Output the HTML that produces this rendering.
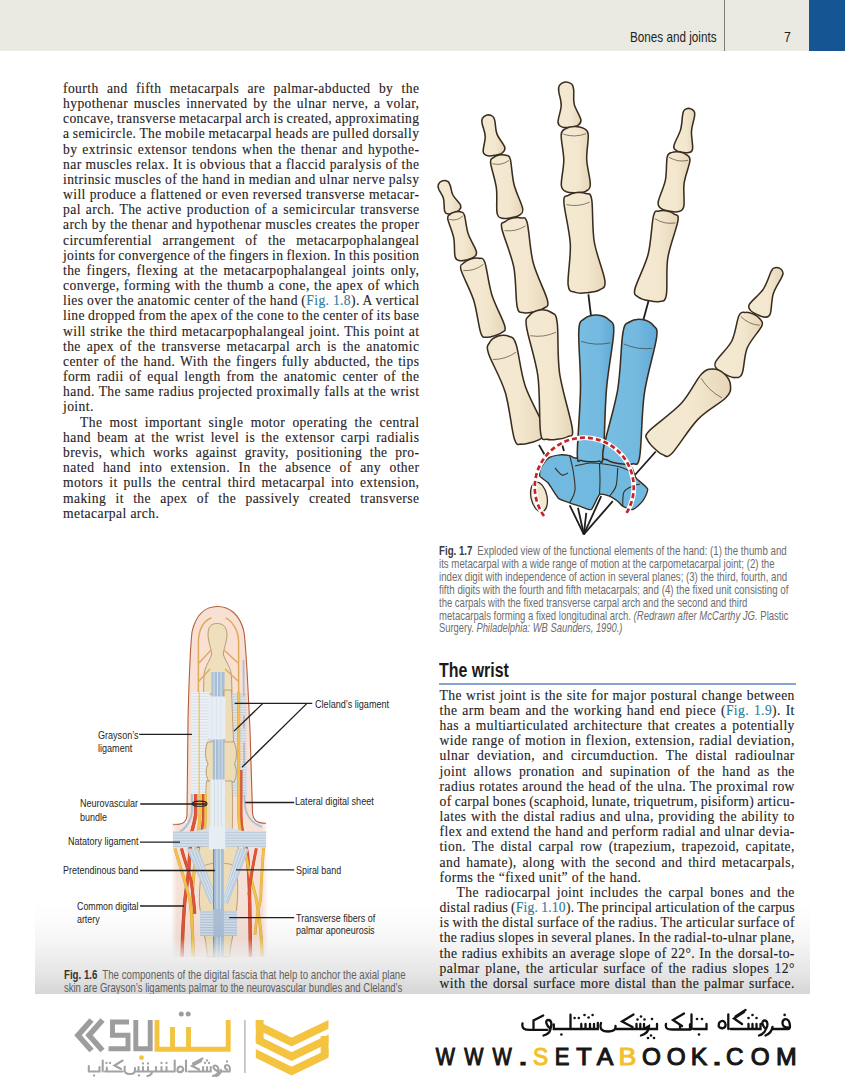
<!DOCTYPE html>
<html><head><meta charset="utf-8">
<style>
*{margin:0;padding:0;box-sizing:border-box}
html,body{width:845px;height:1080px;overflow:hidden;background:#fff}
body{position:relative;font-family:"Liberation Serif",serif;color:#262324}
.ab{position:absolute;white-space:nowrap}
.ln{position:absolute;white-space:nowrap;font-size:13.6px;line-height:20px;height:20px;-webkit-text-stroke:0.12px #262324}
.lnk{color:#2a8bb5}
.cap{position:absolute;white-space:nowrap;font-family:"Liberation Sans",sans-serif;font-size:12.2px;line-height:16px;color:#6d6d6d;transform-origin:0 0}
.cap b{color:#3a3a3a}
.lab{position:absolute;white-space:nowrap;font-family:"Liberation Sans",sans-serif;font-size:11.8px;line-height:14px;color:#262626;transform-origin:0 0;letter-spacing:0px}
</style></head><body>

<div class="ab" style="left:0;top:0;width:845px;height:51.4px;background:#eaeae3"></div>
<div class="ab" style="left:724.1px;top:0;width:1.2px;height:51.4px;background:#807d77"></div>
<div class="ab" style="left:809px;top:0;width:36px;height:50.5px;background:#165593"></div>
<div class="cap" id="h1" style="left:630px;top:29px;font-size:14.6px;color:#231f20;transform:scaleX(0.8015057188359636)">Bones and joints</div>
<div class="cap" id="h2" style="left:784px;top:29.3px;font-size:14.6px;color:#231f20;transform:scaleX(0.85)">7</div>
<div class="ab" id="hd" style="left:439px;top:657.56605px;font-family:'Liberation Sans',sans-serif;font-weight:bold;font-size:20.3px;line-height:24px;color:#1a1a1a;transform-origin:0 0;transform:scaleX(0.7851175851175854)">The wrist</div>
<div class="ab" style="left:438.5px;top:683px;width:357px;height:2px;background:#86a5d2"></div>
<svg width="845" height="1080" style="position:absolute;left:0;top:0"><defs><linearGradient id="bg" x1="0" x2="1" y1="0" y2="0"><stop offset="0" stop-color="#f3e9d1"/><stop offset="0.55" stop-color="#f3e8cf"/><stop offset="1" stop-color="#e6d6b8"/></linearGradient><linearGradient id="blg" x1="0" x2="1" y1="0" y2="0"><stop offset="0" stop-color="#78bde2"/><stop offset="0.6" stop-color="#74bae0"/><stop offset="1" stop-color="#62a9d6"/></linearGradient></defs><line x1="539.0" y1="444.9" x2="544.8" y2="455.0" stroke="#1e1e1e" stroke-width="1.8"/><line x1="562.2" y1="444.9" x2="564.0" y2="451.0" stroke="#1e1e1e" stroke-width="1.8"/><line x1="588.4" y1="294.3" x2="591.0" y2="315.8" stroke="#1e1e1e" stroke-width="1.8"/><line x1="648.9" y1="299.6" x2="642.8" y2="322.0" stroke="#1e1e1e" stroke-width="1.8"/><line x1="655.8" y1="451.5" x2="634.0" y2="476.0" stroke="#1e1e1e" stroke-width="1.8"/><line x1="583.8" y1="534.3" x2="569.7" y2="505.3" stroke="#1e1e1e" stroke-width="1.8"/><line x1="583.8" y1="534.3" x2="578.0" y2="507.8" stroke="#1e1e1e" stroke-width="1.8"/><line x1="583.8" y1="534.3" x2="586.3" y2="512.8" stroke="#1e1e1e" stroke-width="1.8"/><line x1="583.8" y1="534.3" x2="601.2" y2="496.2" stroke="#1e1e1e" stroke-width="1.8"/><line x1="583.8" y1="534.3" x2="612.8" y2="501.2" stroke="#1e1e1e" stroke-width="1.8"/><path d="M540.7 468.0C541.5 466.2 546.3 459.4 548.2 458.1C550.1 456.8 557.6 455.1 559.8 454.8C561.9 454.6 568.2 455.3 569.7 455.6C571.2 455.9 573.0 457.8 575.0 458.0C577.0 458.2 586.8 458.0 589.6 458.0C592.4 458.0 599.8 458.0 602.8 458.0C605.8 458.0 616.5 457.0 619.4 458.0C622.3 459.0 630.3 466.0 632.0 468.0C633.7 470.0 634.4 475.9 636.0 478.0C637.6 480.1 646.9 486.7 647.6 489.0C648.3 491.3 644.1 499.1 642.6 501.2C641.1 503.2 634.7 509.0 632.7 509.5C630.7 510.0 624.2 507.0 622.7 506.2C621.2 505.4 619.0 502.2 617.7 501.2C616.4 500.2 611.3 496.9 609.5 496.2C607.7 495.5 601.3 493.3 599.5 494.6C597.7 495.9 593.2 508.3 591.2 509.5C589.2 510.7 581.8 506.9 579.6 506.2C577.5 505.5 571.9 503.6 569.7 502.8C567.6 502.0 560.2 499.9 558.1 497.9C556.0 495.9 550.0 485.2 548.2 483.0C546.4 480.8 540.6 477.8 539.9 476.3C539.1 474.8 539.9 469.8 540.7 468.0Z" fill="#72b9e0" stroke="#3a2d20" stroke-width="1.35"/><path d="M442.0 180.9C443.6 180.3 446.2 180.5 447.6 181.3C449.0 182.0 449.4 183.1 450.2 185.4C451.1 187.7 451.1 191.7 452.9 195.0C454.6 198.3 459.5 202.7 460.6 205.2C461.6 207.7 460.3 208.7 459.3 209.9C458.2 211.1 456.0 211.8 454.3 212.5C452.5 213.1 450.4 214.1 448.8 214.0C447.2 213.8 445.6 213.9 444.7 211.4C443.8 208.8 444.5 202.2 443.5 198.6C442.6 195.0 439.9 192.0 439.0 189.7C438.2 187.5 437.7 186.4 438.2 184.9C438.7 183.4 440.5 181.5 442.0 180.9Z" fill="url(#bg)" stroke="#3a2d20" stroke-width="1.55"/><path d="M454.7 212.0C456.5 211.6 458.7 211.3 460.3 211.8C461.9 212.3 462.9 211.1 464.3 214.8C465.6 218.5 466.2 228.0 468.3 234.1C470.3 240.2 475.4 247.4 476.3 251.2C477.3 255.1 475.5 255.7 474.0 257.1C472.5 258.5 469.5 259.1 467.2 259.7C464.8 260.3 462.0 261.2 459.9 260.7C457.9 260.3 456.1 260.6 455.1 256.8C454.0 253.0 455.0 244.2 453.7 237.9C452.5 231.6 448.5 223.0 447.8 219.1C447.2 215.2 448.6 215.7 449.8 214.6C450.9 213.4 453.0 212.5 454.7 212.0Z" fill="url(#bg)" stroke="#3a2d20" stroke-width="1.55"/><path d="M463.1 215.8 Q457.2 221.5 449.3 219.4" fill="none" stroke="#3a2d20" stroke-width="0.8" opacity="0.75"/><path d="M470.7 259.0C473.2 258.2 476.5 257.8 478.9 258.3C481.2 258.9 482.7 256.4 484.9 262.5C487.0 268.5 488.5 284.1 491.8 294.7C495.1 305.2 502.9 319.3 504.6 325.5C506.4 331.8 504.0 330.6 502.3 332.3C500.6 334.0 497.3 334.8 494.7 335.7C492.1 336.5 488.9 337.7 486.6 337.2C484.2 336.8 482.9 339.2 480.8 333.0C478.6 326.9 477.0 310.9 473.7 300.3C470.4 289.8 462.7 276.1 461.0 269.9C459.3 263.7 462.0 264.9 463.6 263.1C465.2 261.3 468.2 259.8 470.7 259.0Z" fill="url(#bg)" stroke="#3a2d20" stroke-width="1.55"/><path d="M483.4 264.4 Q474.5 271.3 463.3 270.6" fill="none" stroke="#3a2d20" stroke-width="0.8" opacity="0.75"/><path d="M498.2 336.0C501.5 335.0 506.3 335.0 509.3 336.5C512.3 337.9 513.6 336.6 516.3 344.9C518.9 353.1 520.5 372.0 525.2 386.0C530.0 400.1 542.0 420.4 544.8 429.0C547.6 437.6 544.0 435.5 541.9 437.7C539.8 439.9 535.6 441.1 532.2 442.2C528.9 443.2 524.7 444.7 521.8 444.2C518.8 443.6 517.1 447.4 514.3 438.8C511.6 430.2 509.5 406.6 505.3 392.5C501.0 378.3 491.3 362.0 488.6 353.7C486.0 345.5 487.8 345.8 489.4 342.8C491.0 339.9 494.9 337.1 498.2 336.0Z" fill="url(#bg)" stroke="#3a2d20" stroke-width="1.55"/><path d="M516.1 352.1 Q505.8 359.6 492.9 359.5" fill="none" stroke="#3a2d20" stroke-width="0.8" opacity="0.75"/><path d="M487.0 115.0C488.8 114.7 491.5 115.4 492.9 116.5C494.2 117.5 494.2 118.4 494.9 121.4C495.6 124.3 495.3 129.7 497.0 134.1C498.6 138.4 503.9 144.1 504.8 147.3C505.6 150.4 503.7 151.6 502.1 153.0C500.5 154.3 497.5 154.7 495.1 155.2C492.8 155.7 489.9 156.4 487.9 155.8C485.9 155.3 483.6 154.9 483.2 151.6C482.8 148.4 485.4 141.1 485.2 136.4C485.1 131.8 482.7 126.9 482.2 124.0C481.7 121.0 481.4 120.1 482.2 118.7C483.0 117.2 485.2 115.4 487.0 115.0Z" fill="url(#bg)" stroke="#3a2d20" stroke-width="1.55"/><path d="M499.3 155.0C501.4 154.6 504.0 154.5 505.9 155.2C507.7 155.9 508.9 154.1 510.3 159.1C511.6 164.0 512.0 176.6 514.1 184.8C516.2 193.1 521.7 203.4 522.6 208.4C523.5 213.5 521.3 213.6 519.4 215.1C517.5 216.7 513.9 217.2 511.1 217.7C508.3 218.2 504.9 219.0 502.5 218.3C500.2 217.6 498.1 218.3 497.1 213.2C496.0 208.2 497.5 196.6 496.4 188.2C495.3 179.8 491.1 167.9 490.6 162.8C490.1 157.7 491.8 158.9 493.3 157.6C494.7 156.3 497.2 155.4 499.3 155.0Z" fill="url(#bg)" stroke="#3a2d20" stroke-width="1.55"/><path d="M508.9 160.5 Q501.4 166.0 492.4 163.7" fill="none" stroke="#3a2d20" stroke-width="0.8" opacity="0.75"/><path d="M512.8 218.0C515.5 217.4 518.9 217.2 521.3 217.9C523.7 218.7 525.2 215.3 527.2 222.7C529.2 230.2 529.9 249.9 533.2 262.8C536.6 275.7 545.6 292.5 547.4 300.1C549.2 307.6 546.1 306.3 543.9 308.2C541.6 310.1 537.5 310.9 534.2 311.7C530.8 312.4 526.7 313.5 523.9 312.7C521.1 312.0 518.9 314.5 517.2 307.0C515.5 299.4 516.3 280.3 513.8 267.2C511.2 254.2 503.3 236.1 501.8 228.5C500.4 220.9 503.2 223.4 505.1 221.7C506.9 219.9 510.1 218.6 512.8 218.0Z" fill="url(#bg)" stroke="#3a2d20" stroke-width="1.55"/><path d="M525.7 225.8 Q516.0 232.1 504.5 230.6" fill="none" stroke="#3a2d20" stroke-width="0.8" opacity="0.75"/><path d="M539.9 310.0C543.5 309.5 548.6 310.4 551.5 312.5C554.4 314.6 555.9 312.5 557.2 322.6C558.6 332.8 557.1 355.6 559.6 373.3C562.2 390.9 570.9 417.9 572.3 428.4C573.6 439.0 570.3 434.7 567.9 436.5C565.4 438.3 561.1 438.7 557.6 439.2C554.1 439.7 549.8 440.4 547.0 439.3C544.1 438.3 542.1 443.3 540.6 432.8C539.0 422.3 540.2 393.9 537.9 376.2C535.5 358.6 527.9 337.0 526.5 326.9C525.1 316.7 527.1 318.3 529.4 315.5C531.6 312.7 536.2 310.5 539.9 310.0Z" fill="url(#bg)" stroke="#3a2d20" stroke-width="1.55"/><path d="M556.0 332.2 Q543.7 337.9 530.3 335.7" fill="none" stroke="#3a2d20" stroke-width="0.8" opacity="0.75"/><path d="M565.3 82.0C567.4 81.8 570.5 83.0 571.9 84.3C573.3 85.7 573.3 86.9 573.7 90.2C574.1 93.5 573.0 99.1 574.2 104.1C575.4 109.0 580.3 116.3 580.9 119.9C581.4 123.5 579.3 124.3 577.5 125.6C575.7 126.8 572.6 126.9 570.1 127.2C567.6 127.5 564.4 128.0 562.4 127.1C560.4 126.3 558.2 125.9 558.0 122.3C557.8 118.7 561.1 110.5 561.2 105.4C561.4 100.3 559.1 95.0 558.8 91.7C558.5 88.4 558.3 87.3 559.3 85.7C560.4 84.0 563.2 82.2 565.3 82.0Z" fill="url(#bg)" stroke="#3a2d20" stroke-width="1.55"/><path d="M574.5 126.5C577.4 126.4 580.9 126.9 583.2 128.2C585.4 129.5 587.6 129.1 588.2 134.3C588.8 139.5 586.4 151.1 586.7 159.5C587.1 167.9 590.5 179.2 590.3 184.5C590.1 189.9 587.9 190.0 585.6 191.3C583.2 192.7 579.2 192.6 576.0 192.7C572.8 192.8 568.9 193.0 566.4 191.8C564.0 190.5 561.8 190.5 561.3 185.2C560.9 179.9 563.8 168.4 563.8 160.0C563.7 151.6 560.8 140.1 561.2 134.9C561.5 129.7 563.7 130.0 565.9 128.6C568.1 127.2 571.6 126.6 574.5 126.5Z" fill="url(#bg)" stroke="#3a2d20" stroke-width="1.55"/><path d="M586.0 133.7 Q574.7 137.9 563.3 134.2" fill="none" stroke="#3a2d20" stroke-width="0.8" opacity="0.75"/><path d="M576.9 192.5C579.9 192.2 583.5 192.4 586.0 193.5C588.5 194.6 590.3 191.4 591.7 199.4C593.1 207.4 592.0 227.9 594.2 241.5C596.4 255.0 604.0 272.7 604.9 280.7C605.8 288.8 602.4 287.9 599.6 289.9C596.7 291.9 591.6 292.3 587.6 292.7C583.5 293.1 578.5 293.8 575.3 292.4C572.0 291.1 568.9 292.7 568.1 284.7C567.3 276.6 571.0 257.7 570.3 244.0C569.6 230.3 564.2 210.4 563.9 202.3C563.5 194.2 566.0 197.0 568.2 195.4C570.4 193.8 573.9 192.8 576.9 192.5Z" fill="url(#bg)" stroke="#3a2d20" stroke-width="1.55"/><path d="M589.7 202.1 Q578.5 207.3 566.4 204.6" fill="none" stroke="#3a2d20" stroke-width="0.8" opacity="0.75"/><path d="M597.0 315.0C601.2 315.2 606.6 317.2 609.4 320.2C612.2 323.1 614.2 321.1 613.7 332.6C613.2 344.1 608.2 368.7 606.5 389.1C604.7 409.6 604.6 443.4 603.3 455.4C602.0 467.4 600.8 460.1 598.6 461.1C596.4 462.2 592.8 461.8 590.0 461.7C587.1 461.6 583.6 461.6 581.4 460.3C579.3 459.0 577.5 466.2 577.3 454.1C577.2 442.0 580.3 408.4 580.5 387.9C580.8 367.3 578.1 342.4 578.8 330.9C579.4 319.4 581.2 321.6 584.2 318.9C587.3 316.3 592.9 314.8 597.0 315.0Z" fill="url(#blg)" stroke="#3a2d20" stroke-width="1.55"/><path d="M610.4 342.8 Q595.5 346.1 581.1 341.4" fill="none" stroke="#3a2d20" stroke-width="0.8" opacity="0.75"/><path d="M689.8 108.5C691.4 108.8 693.6 110.4 694.3 111.7C695.1 113.1 695.0 113.3 694.5 116.6C694.0 119.9 691.8 126.0 691.5 131.4C691.2 136.8 693.1 145.3 692.6 148.8C692.1 152.4 690.4 152.0 688.7 152.6C687.0 153.2 684.4 152.5 682.4 152.2C680.3 151.8 677.7 151.6 676.3 150.5C674.9 149.4 673.1 149.1 673.9 145.7C674.6 142.2 679.2 134.8 680.6 129.6C682.1 124.4 682.0 117.9 682.7 114.6C683.3 111.4 683.2 111.1 684.4 110.0C685.6 109.0 688.1 108.2 689.8 108.5Z" fill="url(#bg)" stroke="#3a2d20" stroke-width="1.55"/><path d="M679.7 152.0C682.1 152.4 685.0 153.4 686.7 154.8C688.4 156.2 690.3 155.9 689.9 160.7C689.5 165.4 685.1 175.7 684.1 183.3C683.1 190.9 684.8 201.7 683.8 206.4C682.9 211.1 680.8 210.8 678.5 211.6C676.2 212.4 672.7 211.7 669.9 211.2C667.1 210.7 663.5 210.3 661.6 208.8C659.6 207.3 657.6 207.0 658.2 202.2C658.8 197.4 663.9 187.7 665.4 180.2C666.9 172.7 666.1 161.6 667.2 156.9C668.3 152.3 670.1 153.2 672.1 152.4C674.2 151.6 677.2 151.6 679.7 152.0Z" fill="url(#bg)" stroke="#3a2d20" stroke-width="1.55"/><path d="M688.1 160.3 Q677.9 162.7 669.0 157.2" fill="none" stroke="#3a2d20" stroke-width="0.8" opacity="0.75"/><path d="M667.2 211.0C669.8 211.6 672.9 212.7 674.7 214.3C676.5 216.0 679.1 213.6 677.9 220.9C676.8 228.2 669.7 245.6 667.8 258.0C665.9 270.4 667.7 288.2 666.3 295.4C664.9 302.7 662.4 300.6 659.5 301.5C656.6 302.4 652.3 301.4 648.9 300.7C645.4 300.0 641.1 299.2 638.8 297.3C636.5 295.3 633.3 296.2 634.9 289.0C636.5 281.8 645.1 266.2 648.2 254.0C651.3 241.8 651.6 223.0 653.5 215.9C655.3 208.7 656.7 211.9 659.0 211.1C661.3 210.3 664.6 210.5 667.2 211.0Z" fill="url(#bg)" stroke="#3a2d20" stroke-width="1.55"/><path d="M675.5 222.9 Q664.4 224.7 654.9 218.7" fill="none" stroke="#3a2d20" stroke-width="0.8" opacity="0.75"/><path d="M642.2 319.5C646.2 320.1 651.2 322.6 653.6 325.7C656.0 328.9 658.0 326.9 656.5 338.2C654.9 349.6 647.1 374.1 644.3 393.8C641.5 413.5 641.7 444.9 639.7 456.6C637.7 468.3 635.5 462.8 632.2 464.0C628.9 465.2 623.9 464.3 619.9 463.7C615.9 463.1 610.9 462.4 608.1 460.3C605.3 458.2 601.5 462.7 603.1 450.9C604.7 439.2 614.4 409.3 617.7 389.7C620.9 370.0 620.9 344.3 622.9 333.0C624.8 321.8 626.2 324.3 629.4 322.0C632.6 319.8 638.1 318.9 642.2 319.5Z" fill="url(#blg)" stroke="#3a2d20" stroke-width="1.55"/><path d="M652.2 348.3 Q637.4 350.1 623.9 344.0" fill="none" stroke="#3a2d20" stroke-width="0.8" opacity="0.75"/><path d="M779.4 268.1C780.9 268.8 782.6 270.9 782.9 272.4C783.3 273.9 783.4 273.6 781.7 277.2C780.1 280.8 775.1 287.7 773.2 293.9C771.3 300.0 771.7 310.2 770.2 314.0C768.8 317.9 766.6 317.0 764.4 317.1C762.2 317.2 759.5 315.7 757.2 314.6C754.9 313.5 752.0 312.3 750.7 310.6C749.4 308.8 747.4 307.7 749.5 304.1C751.6 300.6 759.7 294.5 763.3 289.1C766.9 283.8 769.2 275.5 770.9 272.0C772.7 268.5 772.4 268.7 773.8 268.1C775.3 267.4 777.9 267.4 779.4 268.1Z" fill="url(#bg)" stroke="#3a2d20" stroke-width="1.55"/><path d="M753.4 314.1C755.8 315.2 758.6 317.0 760.0 319.0C761.3 321.0 763.8 321.3 761.7 326.1C759.5 330.9 750.5 340.1 747.2 348.0C744.0 355.9 744.2 368.6 742.1 373.6C740.1 378.5 737.6 377.4 734.9 377.6C732.1 377.8 728.6 376.0 725.7 374.6C722.8 373.3 719.1 371.8 717.5 369.6C715.8 367.4 713.4 366.3 715.8 361.5C718.2 356.7 727.9 348.6 731.8 341.0C735.6 333.3 736.7 320.5 738.9 315.7C741.2 310.9 743.0 312.6 745.4 312.4C747.8 312.1 751.0 313.0 753.4 314.1Z" fill="url(#bg)" stroke="#3a2d20" stroke-width="1.55"/><path d="M759.8 325.3 Q748.6 324.5 740.8 316.5" fill="none" stroke="#3a2d20" stroke-width="0.8" opacity="0.75"/><path d="M724.7 374.3C727.7 377.1 730.4 382.0 730.5 385.9C730.7 389.8 731.3 392.2 725.8 397.8C720.4 403.4 706.8 410.2 697.9 419.4C688.9 428.6 677.9 447.3 672.1 453.2C666.3 459.1 666.0 455.6 663.1 454.8C660.2 454.0 657.1 450.9 654.5 448.5C652.0 446.1 648.7 443.2 647.7 440.3C646.8 437.4 643.3 437.3 648.8 431.2C654.4 425.1 672.4 413.1 681.1 403.6C689.9 394.1 695.9 380.2 701.1 374.5C706.4 368.7 708.8 369.1 712.8 369.1C716.7 369.0 721.7 371.5 724.7 374.3Z" fill="url(#bg)" stroke="#3a2d20" stroke-width="1.55"/><path d="M722.0 397.9 Q708.8 391.0 701.2 378.3" fill="none" stroke="#3a2d20" stroke-width="0.8" opacity="0.75"/><path d="M569.7 455.6C570.2 458.0 572.1 464.3 573.0 470.0C573.9 475.7 575.5 484.5 575.0 490.0C574.5 495.5 570.6 500.7 569.7 502.8" fill="none" stroke="#3a2d20" stroke-width="1.1"/><path d="M575.0 466.0C577.5 465.5 585.2 463.3 590.0 463.0C594.8 462.7 599.0 463.3 604.0 464.0C609.0 464.7 615.3 465.7 620.0 467.0C624.7 468.3 630.0 471.2 632.0 472.0" fill="none" stroke="#3a2d20" stroke-width="1.1"/><path d="M599.5 464.0C599.6 466.7 600.0 474.9 600.0 480.0C600.0 485.1 599.6 492.2 599.5 494.6" fill="none" stroke="#3a2d20" stroke-width="1.1"/><path d="M617.7 468.0C617.4 471.0 617.4 481.3 616.0 486.0C614.6 490.7 610.6 494.5 609.5 496.2" fill="none" stroke="#3a2d20" stroke-width="1.1"/><path d="M622.7 506.2C622.9 503.8 622.3 495.4 624.0 492.0C625.7 488.6 630.3 487.3 633.0 486.0C635.7 484.7 638.8 484.3 640.0 484.0" fill="none" stroke="#3a2d20" stroke-width="1.1"/><path d="M555.0 468.0C556.2 469.2 559.8 474.2 562.0 475.0C564.2 475.8 567.0 473.3 568.0 473.0" fill="none" stroke="#3a2d20" stroke-width="1.1"/><ellipse cx="539" cy="497" rx="8" ry="15" transform="rotate(-12 539 497)" fill="#f2e8ce" stroke="#3a2d20" stroke-width="1.3"/><path d="M544 516 A49.5 49.5 0 1 1 626.5 513" fill="none" stroke="#fff" stroke-width="4.8"/><path d="M544 516 A49.5 49.5 0 1 1 626.5 513" fill="none" stroke="#c4242b" stroke-width="2.7" stroke-dasharray="5 3"/></svg>
<svg width="845" height="1080" style="position:absolute;left:0;top:0"><defs>
<linearGradient id="palmH" x1="0" x2="1" y1="0" y2="0">
<stop offset="0" stop-color="#f5e1d8" stop-opacity="0"/><stop offset="0.06" stop-color="#f5e1d8"/><stop offset="0.94" stop-color="#f5e1d8"/><stop offset="1" stop-color="#f5e1d8" stop-opacity="0"/></linearGradient>
<linearGradient id="fadeV" x1="0" x2="0" y1="0" y2="1">
<stop offset="0" stop-color="#fff" stop-opacity="0"/><stop offset="0.6" stop-color="#fff" stop-opacity="0"/><stop offset="1" stop-color="#fff" stop-opacity="0.95"/></linearGradient>
</defs><rect x="171" y="823" width="97" height="134" fill="url(#palmH)"/><path d="M187 824 L188 720 C189 680 190 650 192 632 C196 614 206 606.5 217.5 606.5 C229 606.5 240 614 244 632 C246.5 650 248 690 250 730 L253 824 Z" fill="#f8e0d3"/><path d="M173 824.8 C182 824.8 186.5 823 187 815 L188 720 C189 680 190 650 192 632 C196 614 206 606.5 217.5 606.5 C229 606.5 240 614 244 632 C246.5 650 248 690 250 730 L252.5 812 C253 821 257 823.3 266 823.3" fill="none" stroke="#b35d3f" stroke-width="1.1"/><path d="M198.4 700 L198.4 641 C199 629 204 621 211.4 617.8 M225.6 617.8 C232 621 238 629 238.6 641 L238.6 700" fill="none" stroke="#e0aa5c" stroke-width="1.5"/><path d="M208 635 C208 625 212.5 623.5 217.3 623.5 C222 623.5 227 626 227 635 C226.5 644 223 650 223.5 655 C226 662 231 668 231.5 676 L232 694 L203.5 694 L204 676 C204 668 209 662 211.5 655 C212 650 208.5 644 208 635 Z" fill="#efdfbd" stroke="#a88a5e" stroke-width="0.8"/><path d="M211 650 L199 663 M224 650 L238 663 M210 669 L199 681 M225 669 L238 681" stroke="#e0aa5c" stroke-width="1.4" fill="none"/><rect x="211.5" y="672" width="13" height="26" fill="#a7bed4"/><path d="M214 672V698 M217.5 672V698 M221 672V698" stroke="#e2ebf3" stroke-width="0.8"/><path d="M243.5 660 L244.5 800 C245 815 250 822 262 827" stroke="#a9c0d6" stroke-width="1.8" fill="none"/><path d="M230 692.5 L246 697 L246 716 L230 711.5 Z M231.5 725 L246 729 L246 743 L231.5 739 Z M232 760 L247 765 L247 796 L232 791 Z" fill="#dbe5ee"/><path d="M230.0 694.3H246.5M230.0 696.9H246.5M230.0 699.5H246.5M230.0 702.1H246.5M230.0 704.7H246.5M230.0 707.3H246.5M230.0 709.9H246.5M230.0 712.5H246.5M230.0 715.1H246.5M230.0 717.7H246.5M230.0 720.3H246.5M230.0 722.9H246.5M230.0 725.5H246.5M230.0 728.1H246.5M230.0 730.7H246.5M230.0 733.3H246.5M230.0 735.9H246.5M230.0 738.5H246.5M230.0 741.1H246.5M230.0 743.7H246.5M230.0 746.3H246.5M230.0 748.9H246.5M230.0 751.5H246.5M230.0 754.1H246.5M230.0 756.7H246.5M230.0 759.3H246.5M230.0 761.9H246.5M230.0 764.5H246.5M230.0 767.1H246.5M230.0 769.7H246.5M230.0 772.3H246.5M230.0 774.9H246.5M230.0 777.5H246.5M230.0 780.1H246.5M230.0 782.7H246.5M230.0 785.3H246.5M230.0 787.9H246.5M230.0 790.5H246.5M230.0 793.1H246.5M230.0 795.7H246.5" stroke="#9fb4c7" stroke-width="0.6" opacity="0.75" fill="none"/><path d="M240.7 770 L240.7 815 C241 835 246 845 247.4 854.4 C249 875 249.6 890 249.6 898.9 C250 920 250.4 940 250.4 957" stroke="#b8452e" stroke-width="3.4" fill="none"/><path d="M240.7 770 L240.7 815 C241 835 246 845 247.4 854.4 C249 875 249.6 890 249.6 898.9 C250 920 250.4 940 250.4 957" stroke="#de5538" stroke-width="2.8" fill="none"/><path d="M238.7 692 L238.7 815 C239 830 242 840 244.4 847 C248 870 253 885 256.3 898.9 C259 915 262 935 262.2 957" stroke="#d9a43a" stroke-width="3.0" fill="none"/><path d="M238.7 692 L238.7 815 C239 830 242 840 244.4 847 C248 870 253 885 256.3 898.9 C259 915 262 935 262.2 957" stroke="#f2c24c" stroke-width="2.2" fill="none"/><path d="M263.7 847 C262 870 261 885 260.7 898.9 C258 910 256 920 255 935" stroke="#d9a43a" stroke-width="2.8" fill="none"/><path d="M263.7 847 C262 870 261 885 260.7 898.9 C258 910 256 920 255 935" stroke="#f2c24c" stroke-width="2.0" fill="none"/><path d="M256.3 848.5 C253 865 250 880 249 895" stroke="#b8452e" stroke-width="2.8" fill="none"/><path d="M256.3 848.5 C253 865 250 880 249 895" stroke="#de5538" stroke-width="2.2" fill="none"/><rect x="191.5" y="692" width="18" height="102" fill="#edf1f5"/><path d="M191.5 693.5H209.5M191.5 696.4H209.5M191.5 699.2H209.5M191.5 702.1H209.5M191.5 705.0H209.5M191.5 707.9H209.5M191.5 710.8H209.5M191.5 713.7H209.5M191.5 716.6H209.5M191.5 719.5H209.5M191.5 722.4H209.5M191.5 725.3H209.5M191.5 728.2H209.5M191.5 731.1H209.5M191.5 734.0H209.5M191.5 736.9H209.5M191.5 739.8H209.5M191.5 742.7H209.5M191.5 745.6H209.5M191.5 748.5H209.5M191.5 751.4H209.5M191.5 754.3H209.5M191.5 757.2H209.5M191.5 760.1H209.5M191.5 763.0H209.5M191.5 765.9H209.5M191.5 768.8H209.5M191.5 771.7H209.5M191.5 774.6H209.5M191.5 777.5H209.5M191.5 780.4H209.5M191.5 783.3H209.5M191.5 786.2H209.5M191.5 789.1H209.5M191.5 792.0H209.5" stroke="#c3d0dc" stroke-width="0.6" opacity="0.9" fill="none"/><path d="M199.2 692V794" stroke="#efc35c" stroke-width="1.3"/><path d="M207.5 742 C204.5 750 205 758 208 764 C205 770 206 777 209 782 L234 782 C237 776 237 769 234.5 764 C237.5 757 237 748 233.5 741 Z" fill="#eedcb6" stroke="#a88a5e" stroke-width="0.8"/><path d="M224 690 L231.5 690 C232 705 233 725 233.5 742 L224 742 Z" fill="#eedcb6" stroke="#a88a5e" stroke-width="0.7"/><rect x="208.4" y="696.5" width="17" height="43" fill="#e6edf3"/><path d="M212 697V739 M216.5 697V739 M221 697V739" stroke="#d9e3ec" stroke-width="0.7"/><path d="M208.4 739.3 C214 741.5 220 741.5 225.4 739.3" stroke="#9fb3c6" stroke-width="0.8" fill="none"/><rect x="212.8" y="739.5" width="11.7" height="41" fill="#a7bed4"/><path d="M215.5 739.5V781 M219 739.5V781 M222 739.5V781" stroke="#dce7f0" stroke-width="0.8"/><path d="M206.5 781 C205 800 205.5 825 206 846 L232 846 C232.5 825 233 800 232 781 Z" fill="#eedcb6" stroke="#a88a5e" stroke-width="0.7"/><path d="M210.3 779.5 L225 779.5 L225 838 C226 843 228 846 230 849.3 L205.5 849.3 C207.5 846 209.5 843 210.3 838 Z" fill="#e6edf3"/><path d="M214.5 780V849 M218 780V849 M221.5 780V849" stroke="#cfdbe6" stroke-width="0.8"/><path d="M191.9 794 L191.9 812 C190 825 182 832 173.3 835" stroke="#a9c0d6" stroke-width="2" fill="none"/><path d="M195.6 794 L195.6 815 C194 825 192 830 191.9 832 C190 850 189 860 188.9 869 C187 885 185 897 184.4 906 C183 925 182.2 940 182.2 957" stroke="#b8452e" stroke-width="3.4" fill="none"/><path d="M195.6 794 L195.6 815 C194 825 192 830 191.9 832 C190 850 189 860 188.9 869 C187 885 185 897 184.4 906 C183 925 182.2 940 182.2 957" stroke="#de5538" stroke-width="2.8" fill="none"/><path d="M200 794 L200 815 C199 830 197 840 196.3 847 C194 870 192 895 191.9 910.7 C192 930 193 945 193.3 957" stroke="#d9a43a" stroke-width="3.0" fill="none"/><path d="M200 794 L200 815 C199 830 197 840 196.3 847 C194 870 192 895 191.9 910.7 C192 930 193 945 193.3 957" stroke="#f2c24c" stroke-width="2.2" fill="none"/><path d="M203.3 794 L203.3 818 C202.5 830 200 840 198.5 848" stroke="#b8452e" stroke-width="2.6" fill="none"/><path d="M203.3 794 L203.3 818 C202.5 830 200 840 198.5 848" stroke="#de5538" stroke-width="2.0" fill="none"/><path d="M205.5 794 L205.5 818 C205 830 204 838 203 846" stroke="#d9a43a" stroke-width="2.4" fill="none"/><path d="M205.5 794 L205.5 818 C205 830 204 838 203 846" stroke="#f2c24c" stroke-width="1.6" fill="none"/><path d="M174.8 848.5 C180 865 186 885 189.6 898.9 C192 915 193 935 193.3 957" stroke="#d9a43a" stroke-width="3.0" fill="none"/><path d="M174.8 848.5 C180 865 186 885 189.6 898.9 C192 915 193 935 193.3 957" stroke="#f2c24c" stroke-width="2.2" fill="none"/><path d="M181.5 848.5 C185 862 189 872 191.1 881 C193 895 194.5 905 194.8 913.7" stroke="#b8452e" stroke-width="3.0" fill="none"/><path d="M181.5 848.5 C185 862 189 872 191.1 881 C193 895 194.5 905 194.8 913.7" stroke="#de5538" stroke-width="2.4" fill="none"/><path d="M192.5 803.7 A7.2 2.6 0 1 0 207 803.7 A7.2 2.6 0 1 0 192.5 803.7" stroke="#222" stroke-width="1.1" fill="none"/><path d="M200 846 C198 856 199 863 202 867 C200 880 199 895 199.5 905 C203 930 207 945 207.4 957 L229.6 957 C230 945 235 930 237 905 C238 895 238 880 236.5 867 C240 862 240 853 237.5 845 Z" fill="#eedcb6" stroke="#a88a5e" stroke-width="0.8"/><path d="M203 866 C212 862 226 862 236 866" stroke="#a88a5e" stroke-width="0.7" fill="none"/><path d="M173 831 C190 833 200 830 209 828 L229 828 C238 830 250 833 266 831 L266 848 C250 847 238 846 229 847 L209 847 C200 846 190 847 173 848 Z" fill="#d3dfea"/><path d="M173.0 832.4H266.0M173.0 835.2H266.0M173.0 838.0H266.0M173.0 840.8H266.0M173.0 843.6H266.0M173.0 846.4H266.0" stroke="#a4b8ca" stroke-width="0.6" opacity="0.9" fill="none"/><path d="M208.9 826 H225.2 V849.3 C220 851 214 851 208.9 849.3 Z" fill="#e6edf3"/><path d="M186.5 848.5 L198.5 848.5 L218 902 L210 904 Z M237 848.5 L249 848.5 L228 904 L221.5 902 Z" fill="#bccddd"/><path d="M189.5 849 L212 903 M193 849 L214.5 903 M196 849 L216.5 902 M246 849 L225 903 M242.5 849 L223 903 M239.5 849 L221.5 902" stroke="#e8eff5" stroke-width="0.7"/><rect x="213.3" y="849" width="10.5" height="108" fill="#a7bed4"/><path d="M213.6 849V957" stroke="#4f7ba6" stroke-width="0.8"/><path d="M217 849V957 M220.5 849V957" stroke="#dce7f0" stroke-width="0.8"/><rect x="200" y="910.7" width="37" height="25.2" fill="#d2deea"/><path d="M200.0 912.0H237.0M200.0 914.6H237.0M200.0 917.2H237.0M200.0 919.8H237.0M200.0 922.4H237.0M200.0 925.0H237.0M200.0 927.6H237.0M200.0 930.2H237.0M200.0 932.8H237.0M200.0 935.4H237.0" stroke="#93aabf" stroke-width="0.6" opacity="0.9" fill="none"/><rect x="213.3" y="909" width="10.5" height="28" fill="#a7bed4" opacity="0.9"/><rect x="165" y="905" width="110" height="55" fill="url(#fadeV)"/><line x1="139.2" y1="734.4" x2="192.0" y2="734.4" stroke="#1f1f1f" stroke-width="1.3"/><line x1="140.2" y1="804.0" x2="206.0" y2="804.0" stroke="#1f1f1f" stroke-width="1.3"/><line x1="140.0" y1="842.1" x2="180.0" y2="842.1" stroke="#1f1f1f" stroke-width="1.3"/><line x1="140.0" y1="870.5" x2="215.0" y2="870.5" stroke="#1f1f1f" stroke-width="1.3"/><line x1="140.0" y1="906.0" x2="184.0" y2="906.0" stroke="#1f1f1f" stroke-width="1.3"/><line x1="234.6" y1="703.4" x2="312.3" y2="703.4" stroke="#1f1f1f" stroke-width="1.3"/><line x1="262.9" y1="703.4" x2="234.0" y2="731.1" stroke="#1f1f1f" stroke-width="1.3"/><line x1="307.0" y1="703.4" x2="242.0" y2="767.3" stroke="#1f1f1f" stroke-width="1.3"/><line x1="245.2" y1="802.5" x2="294.2" y2="802.5" stroke="#1f1f1f" stroke-width="1.3"/><line x1="236.0" y1="869.9" x2="294.2" y2="869.9" stroke="#1f1f1f" stroke-width="1.3"/><line x1="229.2" y1="917.6" x2="294.2" y2="917.6" stroke="#1f1f1f" stroke-width="1.3"/></svg>
<div class="ln" id="L0" style="left:63.00px;top:78.91px;word-spacing:4.512px;letter-spacing:0.400px">fourth and fifth metacarpals are palmar-abducted by the</div>
<div class="ln" id="L1" style="left:63.00px;top:94.08px;word-spacing:1.894px;letter-spacing:0.400px">hypothenar muscles innervated by the ulnar nerve, a volar,</div>
<div class="ln" id="L2" style="left:63.00px;top:109.25px;word-spacing:-0.600px;letter-spacing:0.370px">concave, transverse metacarpal arch is created, approximating</div>
<div class="ln" id="L3" style="left:63.00px;top:124.42px;word-spacing:-0.509px;letter-spacing:0.400px">a semicircle. The mobile metacarpal heads are pulled dorsally</div>
<div class="ln" id="L4" style="left:63.00px;top:139.59px;word-spacing:1.163px;letter-spacing:0.400px">by extrinsic extensor tendons when the thenar and hypothe-</div>
<div class="ln" id="L5" style="left:63.00px;top:154.76px;word-spacing:0.147px;letter-spacing:0.400px">nar muscles relax. It is obvious that a flaccid paralysis of the</div>
<div class="ln" id="L6" style="left:63.00px;top:169.93px;word-spacing:-0.173px;letter-spacing:0.400px">intrinsic muscles of the hand in median and ulnar nerve palsy</div>
<div class="ln" id="L7" style="left:63.00px;top:185.10px;word-spacing:0.112px;letter-spacing:0.400px">will produce a flattened or even reversed transverse metacar-</div>
<div class="ln" id="L8" style="left:63.00px;top:200.27px;word-spacing:1.241px;letter-spacing:0.400px">pal arch. The active production of a semicircular transverse</div>
<div class="ln" id="L9" style="left:63.00px;top:215.44px;word-spacing:-0.015px;letter-spacing:0.400px">arch by the thenar and hypothenar muscles creates the proper</div>
<div class="ln" id="L10" style="left:63.00px;top:230.61px;word-spacing:6.709px;letter-spacing:0.400px">circumferential arrangement of the metacarpophalangeal</div>
<div class="ln" id="L11" style="left:63.00px;top:245.78px;word-spacing:-0.600px;letter-spacing:0.318px">joints for convergence of the fingers in flexion. In this position</div>
<div class="ln" id="L12" style="left:63.00px;top:260.95px;word-spacing:1.937px;letter-spacing:0.400px">the fingers, flexing at the metacarpophalangeal joints only,</div>
<div class="ln" id="L13" style="left:63.00px;top:276.12px;word-spacing:0.502px;letter-spacing:0.400px">converge, forming with the thumb a cone, the apex of which</div>
<div class="ln" id="L14" style="left:63.00px;top:291.29px;word-spacing:-0.333px;letter-spacing:0.400px">lies over the anatomic center of the hand (<span class="lnk">Fig. 1.8</span>). A vertical</div>
<div class="ln" id="L15" style="left:63.00px;top:306.46px;word-spacing:-0.600px;letter-spacing:0.377px">line dropped from the apex of the cone to the center of its base</div>
<div class="ln" id="L16" style="left:63.00px;top:321.63px;word-spacing:0.661px;letter-spacing:0.400px">will strike the third metacarpophalangeal joint. This point at</div>
<div class="ln" id="L17" style="left:63.00px;top:336.80px;word-spacing:2.088px;letter-spacing:0.400px">the apex of the transverse metacarpal arch is the anatomic</div>
<div class="ln" id="L18" style="left:63.00px;top:351.97px;word-spacing:1.192px;letter-spacing:0.400px">center of the hand. With the fingers fully abducted, the tips</div>
<div class="ln" id="L19" style="left:63.00px;top:367.14px;word-spacing:1.915px;letter-spacing:0.400px">form radii of equal length from the anatomic center of the</div>
<div class="ln" id="L20" style="left:63.00px;top:382.31px;word-spacing:0.256px;letter-spacing:0.400px">hand. The same radius projected proximally falls at the wrist</div>
<div class="ln" id="L21" style="left:63.00px;top:397.48px;word-spacing:0.000px;letter-spacing:0.400px">joint.</div>
<div class="ln" id="L22" style="left:80.00px;top:412.65px;word-spacing:3.446px;letter-spacing:0.400px">The most important single motor operating the central</div>
<div class="ln" id="L23" style="left:63.00px;top:427.82px;word-spacing:2.402px;letter-spacing:0.400px">hand beam at the wrist level is the extensor carpi radialis</div>
<div class="ln" id="L24" style="left:63.00px;top:442.99px;word-spacing:3.825px;letter-spacing:0.400px">brevis, which works against gravity, positioning the pro-</div>
<div class="ln" id="L25" style="left:63.00px;top:458.16px;word-spacing:4.652px;letter-spacing:0.400px">nated hand into extension. In the absence of any other</div>
<div class="ln" id="L26" style="left:63.00px;top:473.33px;word-spacing:2.241px;letter-spacing:0.400px">motors it pulls the central third metacarpal into extension,</div>
<div class="ln" id="L27" style="left:63.00px;top:488.50px;word-spacing:5.519px;letter-spacing:0.400px">making it the apex of the passively created transverse</div>
<div class="ln" id="L28" style="left:63.00px;top:503.67px;word-spacing:0.000px;letter-spacing:0.400px">metacarpal arch.</div>
<div class="ln" id="R0" style="left:439.60px;top:685.71px;word-spacing:0.387px;letter-spacing:0.400px">The wrist joint is the site for major postural change between</div>
<div class="ln" id="R1" style="left:439.60px;top:700.88px;word-spacing:1.079px;letter-spacing:0.400px">the arm beam and the working hand end piece (<span class="lnk">Fig. 1.9</span>). It</div>
<div class="ln" id="R2" style="left:439.60px;top:716.05px;word-spacing:1.421px;letter-spacing:0.400px">has a multiarticulated architecture that creates a potentially</div>
<div class="ln" id="R3" style="left:439.60px;top:731.22px;word-spacing:0.531px;letter-spacing:0.400px">wide range of motion in flexion, extension, radial deviation,</div>
<div class="ln" id="R4" style="left:439.60px;top:746.39px;word-spacing:3.723px;letter-spacing:0.400px">ulnar deviation, and circumduction. The distal radioulnar</div>
<div class="ln" id="R5" style="left:439.60px;top:761.56px;word-spacing:3.460px;letter-spacing:0.400px">joint allows pronation and supination of the hand as the</div>
<div class="ln" id="R6" style="left:439.60px;top:776.73px;word-spacing:0.190px;letter-spacing:0.400px">radius rotates around the head of the ulna. The proximal row</div>
<div class="ln" id="R7" style="left:439.60px;top:791.90px;word-spacing:-0.600px;letter-spacing:0.307px">of carpal bones (scaphoid, lunate, triquetrum, pisiform) articu-</div>
<div class="ln" id="R8" style="left:439.60px;top:807.07px;word-spacing:0.645px;letter-spacing:0.400px">lates with the distal radius and ulna, providing the ability to</div>
<div class="ln" id="R9" style="left:439.60px;top:822.24px;word-spacing:0.131px;letter-spacing:0.400px">flex and extend the hand and perform radial and ulnar devia-</div>
<div class="ln" id="R10" style="left:439.60px;top:837.41px;word-spacing:2.325px;letter-spacing:0.400px">tion. The distal carpal row (trapezium, trapezoid, capitate,</div>
<div class="ln" id="R11" style="left:439.60px;top:852.58px;word-spacing:2.009px;letter-spacing:0.400px">and hamate), along with the second and third metacarpals,</div>
<div class="ln" id="R12" style="left:439.60px;top:867.75px;word-spacing:0.000px;letter-spacing:0.400px">forms the “fixed unit” of the hand.</div>
<div class="ln" id="R13" style="left:456.60px;top:882.92px;word-spacing:2.345px;letter-spacing:0.400px">The radiocarpal joint includes the carpal bones and the</div>
<div class="ln" id="R14" style="left:439.60px;top:898.09px;word-spacing:-0.600px;letter-spacing:0.224px">distal radius (<span class="lnk">Fig. 1.10</span>). The principal articulation of the carpus</div>
<div class="ln" id="R15" style="left:439.60px;top:913.26px;word-spacing:-0.600px;letter-spacing:0.373px">is with the distal surface of the radius. The articular surface of</div>
<div class="ln" id="R16" style="left:439.60px;top:928.43px;word-spacing:-0.600px;letter-spacing:0.299px">the radius slopes in several planes. In the radial-to-ulnar plane,</div>
<div class="ln" id="R17" style="left:439.60px;top:943.60px;word-spacing:0.523px;letter-spacing:0.400px">the radius exhibits an average slope of 22°. In the dorsal-to-</div>
<div class="ln" id="R18" style="left:439.60px;top:958.77px;word-spacing:1.637px;letter-spacing:0.400px">palmar plane, the articular surface of the radius slopes 12°</div>
<div class="ln" id="R19" style="left:439.60px;top:973.94px;word-spacing:1.066px;letter-spacing:0.400px">with the dorsal surface more distal than the palmar surface.</div>
<div class="cap" id="C70" style="left:439.10px;top:542.77px;transform:scaleX(0.7969)"><b>Fig. 1.7</b> Exploded view of the functional elements of the hand: (1) the thumb and</div>
<div class="cap" id="C71" style="left:439.10px;top:555.72px;transform:scaleX(0.7926)">its metacarpal with a wide range of motion at the carpometacarpal joint; (2) the</div>
<div class="cap" id="C72" style="left:439.10px;top:568.67px;transform:scaleX(0.7943)">index digit with independence of action in several planes; (3) the third, fourth, and</div>
<div class="cap" id="C73" style="left:439.10px;top:581.62px;transform:scaleX(0.7996)">fifth digits with the fourth and fifth metacarpals; and (4) the fixed unit consisting of</div>
<div class="cap" id="C74" style="left:439.10px;top:594.57px;transform:scaleX(0.7795)">the carpals with the fixed transverse carpal arch and the second and third</div>
<div class="cap" id="C75" style="left:439.10px;top:607.52px;transform:scaleX(0.7827)">metacarpals forming a fixed longitudinal arch. <i>(Redrawn after McCarthy JG.</i> Plastic</div>
<div class="cap" id="C76" style="left:439.10px;top:620.47px;transform:scaleX(0.7702)">Surgery. <i>Philadelphia: WB Saunders, 1990.)</i></div>
<div class="cap" id="C60" style="left:63.50px;top:967.47px;transform:scaleX(0.7953)"><b>Fig. 1.6</b> The components of the digital fascia that help to anchor the axial plane</div>
<div class="cap" id="C61" style="left:63.50px;top:980.42px;transform:scaleX(0.7796)">skin are Grayson’s ligaments palmar to the neurovascular bundles and Cleland’s</div>
<div class="lab" id="LB0" style="left:97.70px;top:727.51px;transform:scaleX(0.7676)">Grayson’s</div>
<div class="lab" id="LB1" style="left:97.70px;top:741.11px;transform:scaleX(0.7676)">ligament</div>
<div class="lab" id="LB2" style="left:80.20px;top:796.41px;transform:scaleX(0.7625)">Neurovascular</div>
<div class="lab" id="LB3" style="left:80.20px;top:809.91px;transform:scaleX(0.7625)">bundle</div>
<div class="lab" id="LB4" style="left:67.90px;top:834.21px;transform:scaleX(0.7615)">Natatory ligament</div>
<div class="lab" id="LB5" style="left:63.00px;top:863.01px;transform:scaleX(0.7602)">Pretendinous band</div>
<div class="lab" id="LB6" style="left:76.80px;top:898.61px;transform:scaleX(0.7503)">Common digital</div>
<div class="lab" id="LB7" style="left:76.60px;top:911.91px;transform:scaleX(0.7503)">artery</div>
<div class="lab" id="LB8" style="left:314.50px;top:697.01px;transform:scaleX(0.7704)">Cleland’s ligament</div>
<div class="lab" id="LB9" style="left:295.30px;top:794.21px;transform:scaleX(0.7702)">Lateral digital sheet</div>
<div class="lab" id="LB10" style="left:295.90px;top:862.81px;transform:scaleX(0.7573)">Spiral band</div>
<div class="lab" id="LB11" style="left:296.30px;top:911.11px;transform:scaleX(0.7629)">Transverse fibers of</div>
<div class="lab" id="LB12" style="left:296.30px;top:922.71px;transform:scaleX(0.7586)">palmar aponeurosis</div>
<div class="ab" style="left:35px;top:900px;width:775px;height:94px;background:linear-gradient(to bottom,rgba(0,0,0,0) 0%,rgba(0,0,0,0.012) 20%,rgba(0,0,0,0.04) 45%,rgba(0,0,0,0.095) 75%,rgba(0,0,0,0.16) 100%)"></div>
<div class="ab" style="left:0;top:994px;width:845px;height:86px;background:#fff"></div>
<svg width="845" height="86" style="position:absolute;left:0;top:994px" viewBox="0 994 845 86"><path d="M91.5 1020 L78 1035.3 L91.5 1050.5 M102.5 1020 L89 1035.3 L102.5 1050.5" fill="none" stroke="#9d9d9d" stroke-width="5.6" stroke-linejoin="miter"/><path d="M129 1022 H112.5 V1035.3 H128 V1048.8 H108.5" fill="none" stroke="#9d9d9d" stroke-width="4.9"/><path d="M135.8 1020 V1048.8 H150.2 V1020" fill="none" stroke="#9d9d9d" stroke-width="4.9"/><path d="M157 1020 V1049.3 H228.2 V1020 M172.5 1027 V1049.3 M188.5 1027 V1049.3" fill="none" stroke="#f4c441" stroke-width="4.9"/><circle cx="181.3" cy="1014" r="2.5" fill="#9d9d9d"/><circle cx="188.2" cy="1014" r="2.5" fill="#9d9d9d"/><circle cx="141.5" cy="1057.7" r="2.4" fill="#f4c441"/><path d="M88.8 1066 V1071.5 H99.5 V1067 M102.7 1060.5 V1071.5 M105 1071.5 H122.6 M106.8 1071.5 V1067.5 M122.6 1060.5 L114.5 1065.5 L121 1069 M124.8 1066.5 C123.5 1073.5 127 1074 130 1074 C134 1074 135.5 1072.5 135 1068 M135 1071.5 H174.5 M138.5 1071.5 V1067 M143 1071.5 V1067 M148 1071.5 V1067 M156 1071.5 V1067 M161.5 1071.5 V1067 M166.5 1071.5 V1067 M152 1071.5 C152 1074 150 1075.5 147.5 1076 M174.7 1060.5 V1071.5 M177.5 1071 C177 1066 182.5 1065 183.2 1069 C183.5 1072 179 1073 177.5 1071 M186 1060.5 V1071.5 M188.5 1071.5 H210.7 M201.2 1061 L192 1066 L199 1069.5 M202.5 1058.5 L193 1063.5 M203.1 1071.5 V1067 M207 1071.5 V1067 M210.7 1071.5 V1067 M218.3 1071.5 C219 1067 217 1065.5 215 1065.5 C212.5 1065.5 212.5 1069 218.3 1071.5 C218 1074 216 1075.5 213 1076 M221 1070 C220.5 1073.5 219 1075 216.5 1076 M221 1071.5 H229.6 C230.5 1068 229.5 1065 227 1065 C224.5 1065 224 1068.5 227 1069.5" fill="none" stroke="#a3a3a3" stroke-width="2.1" stroke-linecap="round"/><circle cx="94.0" cy="1075.5" r="1.15" fill="#a3a3a3"/><circle cx="106.5" cy="1063.0" r="1.15" fill="#a3a3a3"/><circle cx="110.0" cy="1063.0" r="1.15" fill="#a3a3a3"/><circle cx="143.0" cy="1063.5" r="1.15" fill="#a3a3a3"/><circle cx="148.0" cy="1063.5" r="1.15" fill="#a3a3a3"/><circle cx="139.0" cy="1075.5" r="1.15" fill="#a3a3a3"/><circle cx="161.5" cy="1063.0" r="1.15" fill="#a3a3a3"/><circle cx="166.5" cy="1063.0" r="1.15" fill="#a3a3a3"/><circle cx="205.0" cy="1063.0" r="1.15" fill="#a3a3a3"/><circle cx="209.0" cy="1063.0" r="1.15" fill="#a3a3a3"/><circle cx="207.0" cy="1060.5" r="1.15" fill="#a3a3a3"/><circle cx="227.0" cy="1061.5" r="1.15" fill="#a3a3a3"/><rect x="244.2" y="1020" width="1.4" height="53" fill="#b4b4bb"/><clipPath id="lgc"><rect x="255.8" y="1015" width="72.7" height="65"/></clipPath><g clip-path="url(#lgc)" fill="none" stroke="#f4c441" stroke-width="8" stroke-linejoin="miter"><path d="M250 1021.7 L291.6 1042 L334 1021.7"/><path d="M250 1036.2 L291.6 1056.5 L334 1036.2"/><path d="M250 1050.7 L291.6 1071 L334 1050.7"/></g><rect x="255.8" y="1020" width="7.8" height="22" fill="#f4c441"/><rect x="320.7" y="1036" width="7.8" height="20" fill="#f4c441"/><path d="M543.2 1015.5 L533.5 1020.5 V1028.5 M522.5 1023.5 C521.5 1029 525 1029.8 530 1029.8 H547.5 M550.6 1028.7 C552 1024 551.5 1020 548.3 1020 C545 1020 545.5 1025 550.6 1028.7 C550 1032 547.5 1034.5 543.5 1035.5 M553.8 1024.5 V1029 H597.8 V1023 M570.5 1014.6 V1029 M581.3 1029 V1024 M585.5 1029 V1024 M590 1029 V1024 M594 1029 V1024 M601 1023 C599 1030 603 1031.5 608 1031.5 C613 1031.5 616 1030 615.5 1026 M615.5 1029 H632.5 M633.5 1014.5 L622 1021.5 L632.5 1027 M632.5 1029 H644 V1024 M636.5 1029 V1024 M640.3 1029 V1024 M644 1029 L649 1026 C649 1031 646 1034 641 1035.5 M645 1029 H657 V1024 M666 1024 C665 1029 668 1029.5 672 1029.5 H690 V1024.5 M684 1013.5 L673 1020 L682 1026 M680 1029 V1025 M691.5 1014.5 V1029 M693.5 1029 H706.5 V1024 M718.8 1026.5 C718 1020 725 1019 725.5 1024.5 C726 1028.5 721 1029.5 718.8 1026.5 M728.3 1014.5 V1029 M730.5 1029 H745 M744 1012 L734 1018.5 L742 1024 M745.5 1010 L735.5 1016.5 M745 1029 H760.5 V1024 M748.5 1029 V1024 M752.5 1029 V1024 M756.5 1029 V1024 M766 1029 C768.5 1025 767.5 1020.5 764.5 1020.5 C761.5 1020.5 761.5 1025.5 766 1029 C765 1032 762.5 1034.5 759 1035.5 M772.5 1027 C772 1031 769 1034 765.5 1035.5 M773 1029 H788.5 C790.5 1029 790.5 1024 788.5 1020.5 C786 1018 782.5 1019 782.5 1023 C782.5 1026 785 1027.5 788 1027.5" fill="none" stroke="#111" stroke-width="2.3" stroke-linecap="round"/><circle cx="561.4" cy="1034.5" r="1.3" fill="#111"/><circle cx="574.6" cy="1018.0" r="1.3" fill="#111"/><circle cx="578.8" cy="1018.0" r="1.3" fill="#111"/><circle cx="588.6" cy="1017.5" r="1.3" fill="#111"/><circle cx="584.5" cy="1015.0" r="1.3" fill="#111"/><circle cx="592.6" cy="1015.0" r="1.3" fill="#111"/><circle cx="641.0" cy="1016.5" r="1.3" fill="#111"/><circle cx="637.5" cy="1019.5" r="1.3" fill="#111"/><circle cx="644.5" cy="1019.5" r="1.3" fill="#111"/><circle cx="652.0" cy="1019.0" r="1.3" fill="#111"/><circle cx="651.0" cy="1035.5" r="1.3" fill="#111"/><circle cx="648.0" cy="1038.0" r="1.3" fill="#111"/><circle cx="654.0" cy="1038.0" r="1.3" fill="#111"/><circle cx="699.0" cy="1034.5" r="1.3" fill="#111"/><circle cx="697.0" cy="1019.0" r="1.3" fill="#111"/><circle cx="702.0" cy="1019.0" r="1.3" fill="#111"/><circle cx="752.5" cy="1015.0" r="1.3" fill="#111"/><circle cx="748.5" cy="1018.0" r="1.3" fill="#111"/><circle cx="756.5" cy="1018.0" r="1.3" fill="#111"/><circle cx="784.6" cy="1014.9" r="1.3" fill="#111"/><text transform="translate(435.81 1065.00) scale(0.822 1)" font-family="Liberation Sans" font-size="24.7" fill="#161616" stroke="#161616" stroke-width="1.1">W</text><text transform="translate(464.21 1065.00) scale(0.822 1)" font-family="Liberation Sans" font-size="24.7" fill="#161616" stroke="#161616" stroke-width="1.1">W</text><text transform="translate(492.61 1065.00) scale(0.822 1)" font-family="Liberation Sans" font-size="24.7" fill="#161616" stroke="#161616" stroke-width="1.1">W</text><text transform="translate(517.65 1065.00) scale(1.531 1)" font-family="Liberation Sans" font-size="24.7" fill="#161616" stroke="#161616" stroke-width="1.1">.</text><text transform="translate(533.07 1065.00) scale(0.921 1)" font-family="Liberation Sans" font-size="24.7" fill="#f2bf2e" stroke="#f2bf2e" stroke-width="1.1">S</text><text transform="translate(554.80 1065.00) scale(0.889 1)" font-family="Liberation Sans" font-size="24.7" fill="#161616" stroke="#161616" stroke-width="1.1">E</text><text transform="translate(576.13 1065.00) scale(1.024 1)" font-family="Liberation Sans" font-size="24.7" fill="#161616" stroke="#161616" stroke-width="1.1">T</text><text transform="translate(596.85 1065.00) scale(1.007 1)" font-family="Liberation Sans" font-size="24.7" fill="#161616" stroke="#161616" stroke-width="1.1">A</text><text transform="translate(618.51 1065.00) scale(1.080 1)" font-family="Liberation Sans" font-size="24.7" fill="#f2bf2e" stroke="#f2bf2e" stroke-width="1.1">B</text><text transform="translate(641.95 1065.00) scale(0.985 1)" font-family="Liberation Sans" font-size="24.7" fill="#161616" stroke="#161616" stroke-width="1.1">O</text><text transform="translate(666.85 1065.00) scale(0.985 1)" font-family="Liberation Sans" font-size="24.7" fill="#161616" stroke="#161616" stroke-width="1.1">O</text><text transform="translate(690.77 1065.00) scale(1.002 1)" font-family="Liberation Sans" font-size="24.7" fill="#161616" stroke="#161616" stroke-width="1.1">K</text><text transform="translate(711.85 1065.00) scale(1.531 1)" font-family="Liberation Sans" font-size="24.7" fill="#161616" stroke="#161616" stroke-width="1.1">.</text><text transform="translate(725.97 1065.00) scale(0.978 1)" font-family="Liberation Sans" font-size="24.7" fill="#161616" stroke="#161616" stroke-width="1.1">C</text><text transform="translate(750.85 1065.00) scale(0.985 1)" font-family="Liberation Sans" font-size="24.7" fill="#161616" stroke="#161616" stroke-width="1.1">O</text><text transform="translate(775.96 1065.00) scale(1.005 1)" font-family="Liberation Sans" font-size="24.7" fill="#161616" stroke="#161616" stroke-width="1.1">M</text></svg>
</body></html>
